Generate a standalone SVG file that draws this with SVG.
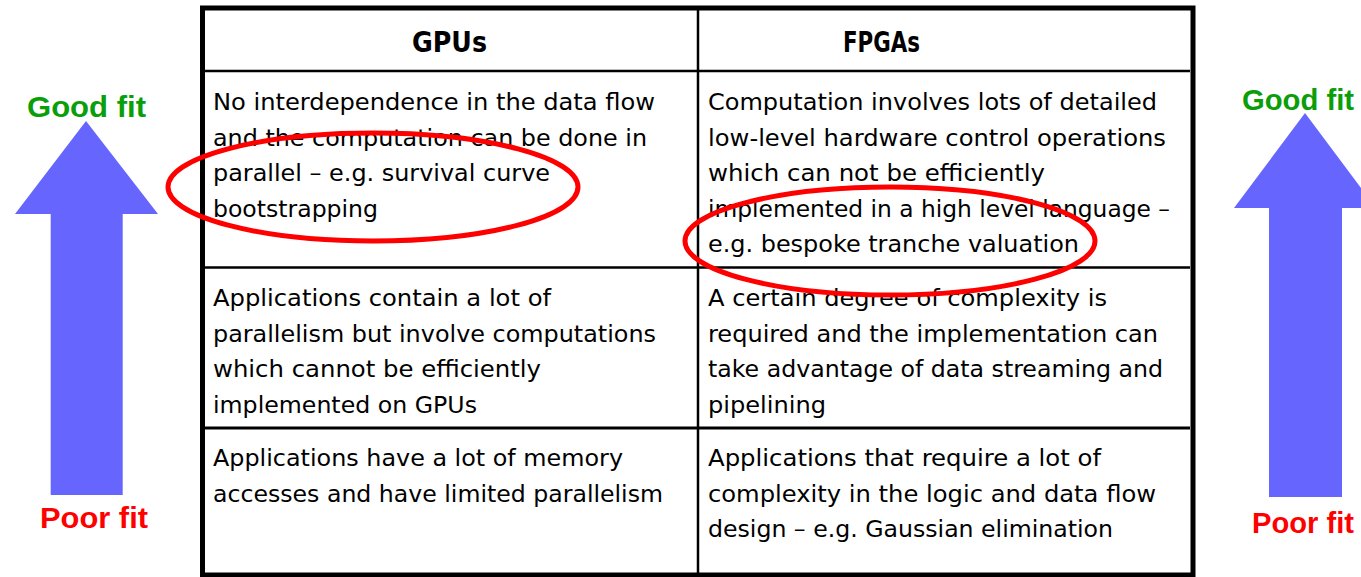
<svg xmlns="http://www.w3.org/2000/svg" width="1361" height="577" viewBox="0 0 1361 577">
  <style>
    .body { font-family: "DejaVu Sans", "Liberation Sans", sans-serif; font-size: 23px; fill: #000; }
    .head { font-family: "DejaVu Sans", "Liberation Sans", sans-serif; font-size: 29px; font-weight: bold; fill: #000; }
    .fit { font-family: "Liberation Sans", "DejaVu Sans", sans-serif; font-size: 30px; font-weight: bold; }
    .good { fill: #0a9e0a; }
    .poor { fill: #ff0000; }
    .arrow { fill: #6666ff; }
    .grid { stroke: #000; fill: none; }
    .ring { fill: none; stroke: #ff0000; stroke-width: 5; }
  </style>

  <rect width="1361" height="577" fill="#fff"/>

  <!-- scale arrows on both sides -->
  <g id="scale-left">
    <polygon class="arrow" points="86,121 158,214 122.7,214 122.7,495 50.7,495 50.7,214 15,214"/>
    <text class="fit good" x="27" y="117" textLength="119" lengthAdjust="spacingAndGlyphs">Good fit</text>
    <text class="fit poor" x="40" y="528" textLength="108" lengthAdjust="spacingAndGlyphs">Poor fit</text>
  </g>
  <g id="scale-right">
    <polygon class="arrow" points="1305,113 1376,208 1342,208 1342,497 1269,497 1269,208 1234,208"/>
    <text class="fit good" x="1242" y="110" textLength="112" lengthAdjust="spacingAndGlyphs">Good fit</text>
    <text class="fit poor" x="1252" y="533" textLength="102" lengthAdjust="spacingAndGlyphs">Poor fit</text>
  </g>

  <!-- table grid -->
  <g id="table">
    <line class="grid" x1="205" y1="71" x2="1190" y2="71" stroke-width="2.5"/>
    <line class="grid" x1="205" y1="267.5" x2="1190" y2="267.5" stroke-width="2.5"/>
    <line class="grid" x1="205" y1="428" x2="1190" y2="428" stroke-width="3"/>
    <line class="grid" x1="698" y1="10" x2="698" y2="577" stroke-width="2.5"/>
    <rect class="grid" x="202.5" y="8" width="990.5" height="567" stroke-width="5"/>
  </g>

  <g id="header-gpu">
    <text class="head" x="412" y="52" textLength="75" lengthAdjust="spacingAndGlyphs">GPUs</text>
  </g>
  <g id="header-fpga">
    <text class="head" x="843" y="52" textLength="77" lengthAdjust="spacingAndGlyphs">FPGAs</text>
  </g>

  <g id="gpu-good" class="body">
    <text x="213" y="110" textLength="442" lengthAdjust="spacingAndGlyphs">No interdependence in the data flow</text>
    <text x="213" y="145.5" textLength="434" lengthAdjust="spacingAndGlyphs">and the computation can be done in</text>
    <text x="213" y="181" textLength="337" lengthAdjust="spacingAndGlyphs">parallel – e.g. survival curve</text>
    <text x="213" y="216.5" textLength="165" lengthAdjust="spacingAndGlyphs">bootstrapping</text>
  </g>
  <g id="fpga-good" class="body">
    <text x="708" y="110" textLength="449" lengthAdjust="spacingAndGlyphs">Computation involves lots of detailed</text>
    <text x="708" y="145.5" textLength="458" lengthAdjust="spacingAndGlyphs">low-level hardware control operations</text>
    <text x="708" y="181" textLength="337" lengthAdjust="spacingAndGlyphs">which can not be efficiently</text>
    <text x="708" y="216.5" textLength="462" lengthAdjust="spacingAndGlyphs">implemented in a high level language –</text>
    <text x="708" y="251.5" textLength="371" lengthAdjust="spacingAndGlyphs">e.g. bespoke tranche valuation</text>
  </g>

  <g id="gpu-mid" class="body">
    <text x="213" y="306" textLength="338" lengthAdjust="spacingAndGlyphs">Applications contain a lot of</text>
    <text x="213" y="341.5" textLength="443" lengthAdjust="spacingAndGlyphs">parallelism but involve computations</text>
    <text x="213" y="377" textLength="328" lengthAdjust="spacingAndGlyphs">which cannot be efficiently</text>
    <text x="213" y="412.5" textLength="264" lengthAdjust="spacingAndGlyphs">implemented on GPUs</text>
  </g>
  <g id="fpga-mid" class="body">
    <text x="708" y="306" textLength="399" lengthAdjust="spacingAndGlyphs">A certain degree of complexity is</text>
    <text x="708" y="341.5" textLength="450" lengthAdjust="spacingAndGlyphs">required and the implementation can</text>
    <text x="708" y="377" textLength="455" lengthAdjust="spacingAndGlyphs">take advantage of data streaming and</text>
    <text x="708" y="412.5" textLength="118" lengthAdjust="spacingAndGlyphs">pipelining</text>
  </g>

  <g id="gpu-poor" class="body">
    <text x="213" y="466" textLength="410" lengthAdjust="spacingAndGlyphs">Applications have a lot of memory</text>
    <text x="213" y="501.5" textLength="450" lengthAdjust="spacingAndGlyphs">accesses and have limited parallelism</text>
  </g>
  <g id="fpga-poor" class="body">
    <text x="708" y="466" textLength="393" lengthAdjust="spacingAndGlyphs">Applications that require a lot of</text>
    <text x="708" y="501.5" textLength="448" lengthAdjust="spacingAndGlyphs">complexity in the logic and data flow</text>
    <text x="708" y="537" textLength="405" lengthAdjust="spacingAndGlyphs">design – e.g. Gaussian elimination</text>
  </g>

  <!-- highlight rings drawn over the table text -->
  <g id="highlights">
    <ellipse class="ring" cx="373" cy="187" rx="205" ry="54"/>
    <ellipse class="ring" cx="890" cy="241" rx="205" ry="54"/>
  </g>
</svg>
